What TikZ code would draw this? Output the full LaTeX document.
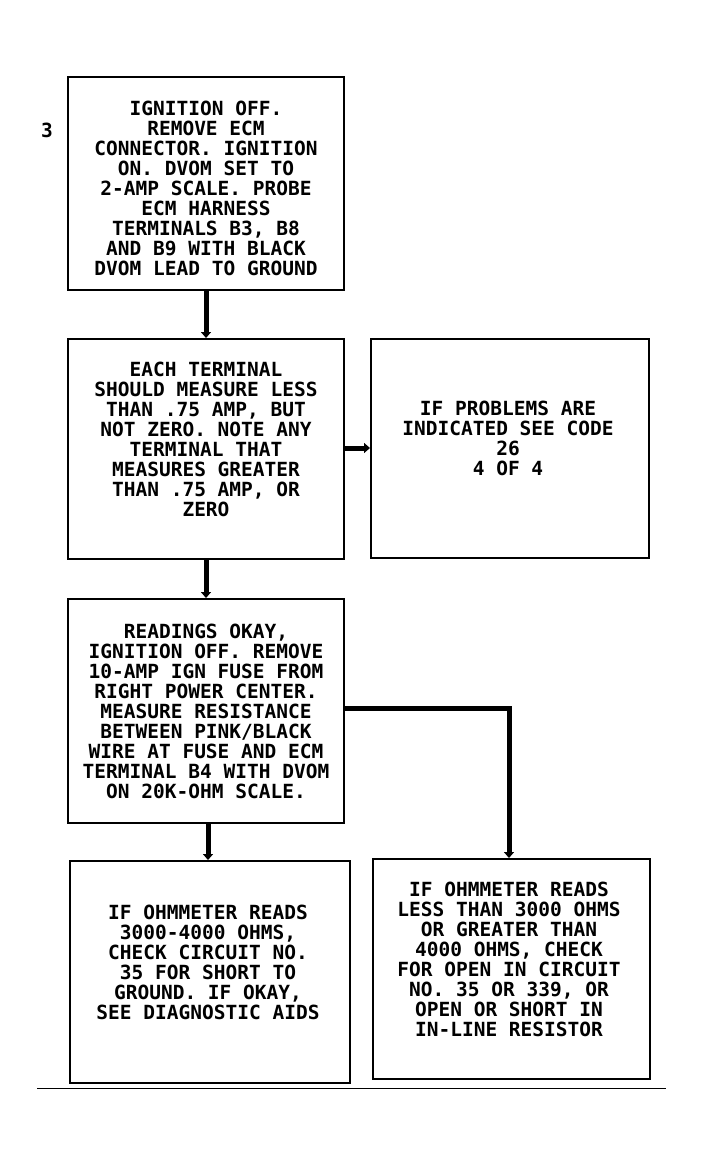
\documentclass[tikz,border=0pt]{standalone}
\usepackage{fontspec}
\setmonofont{DejaVu Sans Mono}
\usetikzlibrary{arrows.meta}
\begin{document}
\begin{tikzpicture}[x=1pt,y=-1pt,
  box/.style={draw,line width=2pt,inner sep=0pt,anchor=north west},
  txt/.style={align=center,inner sep=0pt,font=\fontsize{19.5}{20}\selectfont\ttfamily\bfseries},
  flow/.style={line width=5pt,-{Triangle[width=10pt,length=6pt]}},
  link/.style={line width=5pt}]
\useasboundingbox (0,0) rectangle (703,1164);
\node[box,minimum width=276pt,minimum height=213pt] (b1) at (67,76) {};
\node[box,minimum width=276pt,minimum height=220pt] (b2) at (67,338) {};
\node[box,minimum width=278pt,minimum height=219pt] (b3) at (370,338) {};
\node[box,minimum width=276pt,minimum height=224pt] (b4) at (67,598) {};
\node[box,minimum width=280pt,minimum height=222pt] (b5) at (69,860) {};
\node[box,minimum width=277pt,minimum height=220pt] (b6) at (372,858) {};
\node[txt] (n3) at (47,130) {3};
\node[txt] (t1) at (206,188) {IGNITION OFF.\\REMOVE ECM\\CONNECTOR. IGNITION\\ON. DVOM SET TO\\2-AMP SCALE. PROBE\\ECM HARNESS\\TERMINALS B3, B8\\AND B9 WITH BLACK\\DVOM LEAD TO GROUND};
\node[txt] (t2) at (206,439) {EACH TERMINAL\\SHOULD MEASURE LESS\\THAN .75 AMP, BUT\\NOT ZERO. NOTE ANY\\TERMINAL THAT\\MEASURES GREATER\\THAN .75 AMP, OR\\ZERO};
\node[txt] (t3) at (508,438) {IF PROBLEMS ARE\\INDICATED SEE CODE\\26\\4 OF 4};
\node[txt] (t4) at (206,711) {READINGS OKAY,\\IGNITION OFF. REMOVE\\10-AMP IGN FUSE FROM\\RIGHT POWER CENTER.\\MEASURE RESISTANCE\\BETWEEN PINK/BLACK\\WIRE AT FUSE AND ECM\\TERMINAL B4 WITH DVOM\\ON 20K-OHM SCALE.};
\node[txt] (t5) at (208,962) {IF OHMMETER READS\\3000-4000 OHMS,\\CHECK CIRCUIT NO.\\35 FOR SHORT TO\\GROUND. IF OKAY,\\SEE DIAGNOSTIC AIDS};
\node[txt] (t6) at (509,959) {IF OHMMETER READS\\LESS THAN 3000 OHMS\\OR GREATER THAN\\4000 OHMS, CHECK\\FOR OPEN IN CIRCUIT\\NO. 35 OR 339, OR\\OPEN OR SHORT IN\\IN-LINE RESISTOR};
\draw[flow] (b1.south -| 206,0) -- (b2.north -| 206,0);
\draw[flow] (b2.east |- 0,448) -- (b3.west |- 0,448);
\draw[flow] (b2.south -| 206,0) -- (b4.north -| 206,0);
\draw[flow] (b4.south -| 208,0) -- (b5.north -| 208,0);
\coordinate (bend) at (509,708);
\draw[link] (b4.east |- bend) -- ([xshift=2.5pt]bend);
\draw[flow] ([yshift=-2.5pt]bend) -- (b6.north -| bend);
\coordinate (l1) at (37,1088);
\coordinate (l2) at (666,1088);
\draw[line width=1pt] (l1) -- (l2);
\end{tikzpicture}
\end{document}
